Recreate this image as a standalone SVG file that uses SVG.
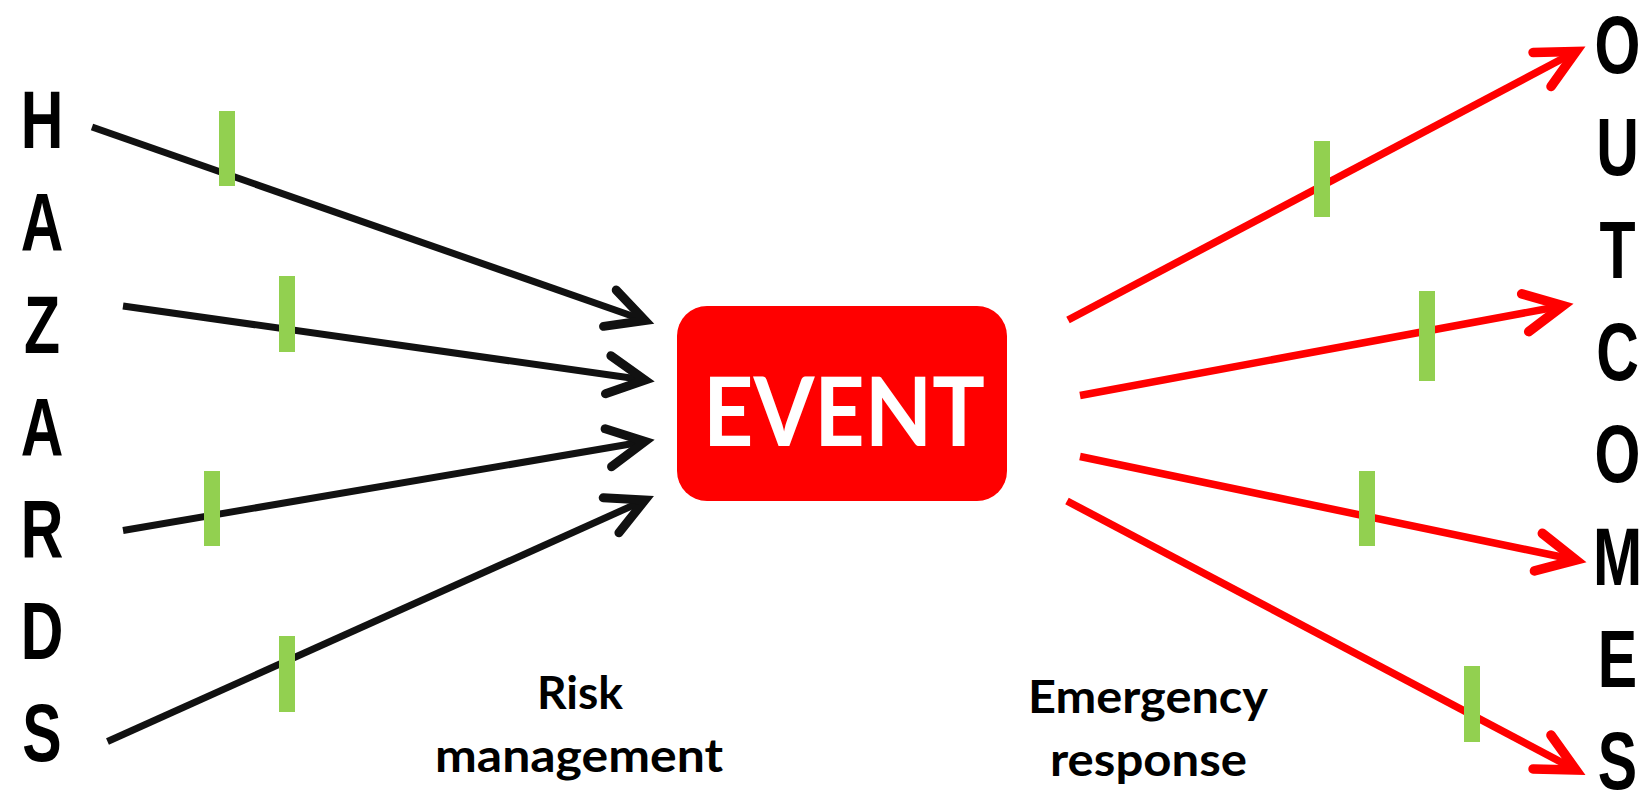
<svg xmlns="http://www.w3.org/2000/svg" width="1648" height="801" viewBox="0 0 1648 801">
<style>
.bg{fill:#ffffff}
.blk{stroke:#111111;stroke-width:7;fill:none;stroke-linecap:butt}
.red{stroke:#ff0000;stroke-width:7.5;fill:none;stroke-linecap:butt}
.tick{fill:#92d050}
.letter{font-family:"Liberation Sans",Arial,sans-serif;font-weight:bold;font-size:82px;fill:#000000;text-anchor:middle}
.lbl{font-family:Lato,"Open Sans",sans-serif;font-weight:bold;font-size:45px;fill:#000000;text-anchor:middle}
.evt{font-family:Lato,"Open Sans",sans-serif;font-weight:bold;font-size:95px;fill:#ffffff;text-anchor:middle}
</style>
<defs>
<marker id="arrB" markerUnits="userSpaceOnUse" orient="auto" refX="0" refY="0" markerWidth="60" markerHeight="60" viewBox="-40 -25 50 50" overflow="visible">
<path d="M -31 -16 L 0 0 L -31 16" fill="none" stroke="#111111" stroke-width="7.5" stroke-linecap="round" stroke-linejoin="miter"/>
</marker>
<marker id="arrR" markerUnits="userSpaceOnUse" orient="auto" refX="0" refY="0" markerWidth="60" markerHeight="60" viewBox="-40 -25 50 50" overflow="visible">
<path d="M -32 -16 L 0 0 L -32 16" fill="none" stroke="#ff0000" stroke-width="8" stroke-linecap="round" stroke-linejoin="miter"/>
</marker>
</defs>
<rect class="bg" x="0" y="0" width="1648" height="801"/>

<g id="hazards">
<g transform="translate(42,0) scale(0.72,1)">
<text class="letter" x="0" y="148">H</text>
<text class="letter" x="0" y="250.3">A</text>
<text class="letter" x="0" y="352.6">Z</text>
<text class="letter" x="0" y="454.9">A</text>
<text class="letter" x="0" y="557.2">R</text>
<text class="letter" x="0" y="659.5">D</text>
<text class="letter" x="0" y="761.5">S</text>
</g>
</g>

<g id="outcomes">
<g transform="translate(1617.5,0) scale(0.72,1)">
<text class="letter" x="0" y="73">O</text>
<text class="letter" x="0" y="175.5">U</text>
<text class="letter" x="0" y="278">T</text>
<text class="letter" x="0" y="380">C</text>
<text class="letter" x="0" y="482.5">O</text>
<text class="letter" x="0" y="585">M</text>
<text class="letter" x="0" y="687">E</text>
<text class="letter" x="0" y="789">S</text>
</g>
</g>

<g id="event">
<rect x="677" y="306" width="330" height="195" rx="30" ry="30" fill="#ff0000"/>
<text class="evt" x="844" y="445.5" textLength="282" lengthAdjust="spacingAndGlyphs">EVENT</text>
</g>

<g id="connectors">
<path class="blk" d="M 92 127 L 645 320.5" marker-end="url(#arrB)"/>
<path class="blk" d="M 123 306 L 645 380" marker-end="url(#arrB)"/>
<path class="blk" d="M 123 530.5 L 645 441.5" marker-end="url(#arrB)"/>
<path class="blk" d="M 107.5 741.5 L 645 500" marker-end="url(#arrB)"/>
<path class="red" d="M 1068 320 L 1576 51.5" marker-end="url(#arrR)"/>
<path class="red" d="M 1080 395.5 L 1563 305.7" marker-end="url(#arrR)"/>
<path class="red" d="M 1080 456.5 L 1576 560" marker-end="url(#arrR)"/>
<path class="red" d="M 1067 501 L 1576 770" marker-end="url(#arrR)"/>
</g>

<g id="barriers">
<rect class="tick" x="219" y="111" width="16" height="75"/>
<rect class="tick" x="279" y="276" width="16" height="76"/>
<rect class="tick" x="204" y="471" width="16" height="75"/>
<rect class="tick" x="279" y="636" width="16" height="76"/>
<rect class="tick" x="1314" y="141" width="16" height="76"/>
<rect class="tick" x="1419" y="291" width="16" height="90"/>
<rect class="tick" x="1359" y="471" width="16" height="75"/>
<rect class="tick" x="1464" y="666" width="16" height="76"/>
</g>

<g id="risk-label">
<text class="lbl" x="580" y="709" textLength="86" lengthAdjust="spacingAndGlyphs">Risk</text>
<text class="lbl" x="579" y="772" textLength="288" lengthAdjust="spacingAndGlyphs">management</text>
</g>

<g id="emergency-label">
<text class="lbl" x="1148" y="713" textLength="240" lengthAdjust="spacingAndGlyphs">Emergency</text>
<text class="lbl" x="1148.5" y="776" textLength="197" lengthAdjust="spacingAndGlyphs">response</text>
</g>
</svg>
